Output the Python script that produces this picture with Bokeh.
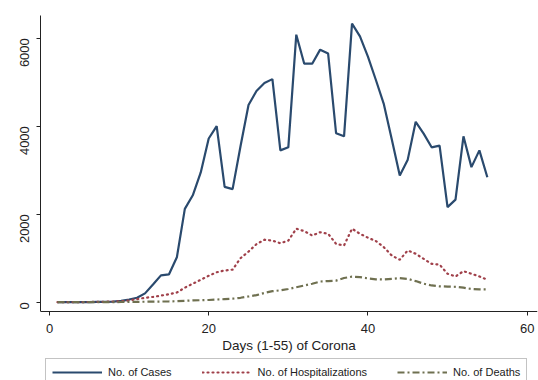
import math
from bokeh.plotting import figure
from bokeh.models import Range1d, FixedTicker, Legend, LegendItem
from bokeh.embed import file_html
from bokeh.resources import INLINE

days = list(range(1, 56))
cases = [0, 0, 0, 0, 2, 5, 8, 12, 30, 60,
         100, 200, 400, 610, 630, 1020, 2120, 2430, 2950, 3720,
         4000, 2620, 2570, 3550, 4480, 4800, 4980, 5070, 3450, 3520,
         6080, 5420, 5420, 5740, 5650, 3840, 3770, 6330, 6040, 5580,
         5050, 4500, 3700, 2880, 3240, 4100, 3830, 3520, 3560, 2160,
         2330, 3770, 3070, 3450, 2840]
hospitalizations = [0, 0, 0, 0, 5, 8, 10, 15, 20, 40,
                    70, 100, 120, 150, 180, 220, 330, 420, 510, 600,
                    680, 720, 740, 1000, 1150, 1320, 1420, 1400, 1340, 1400,
                    1670, 1615, 1515, 1590, 1555, 1325, 1290, 1670, 1555, 1465,
                    1390, 1250, 1060, 965, 1175, 1100, 985, 870, 855, 645,
                    585, 705, 645, 585, 510]
deaths = [0, 0, 0, 0, 0, 0, 0, 2, 4, 6,
          8, 10, 12, 15, 18, 22, 30, 40, 45, 50,
          60, 70, 80, 100, 130, 160, 210, 250, 270, 300,
          340, 380, 420, 470, 480, 490, 550, 580, 570, 540,
          520, 515, 530, 545, 530, 480, 420, 380, 360, 355,
          350, 330, 300, 290, 290]

x_ticks = [0, 20, 40, 60]
y_ticks = [0, 2000, 4000, 6000]
x_label = "Days (1-55) of Corona"
labels = ["No. of Cases", "No. of Hospitalizations", "No. of Deaths"]

FONT = "Liberation Sans"
Y_LO, Y_HI = -211, 6516

p = figure(frame_width=497, frame_height=365, output_backend="svg", toolbar_location=None,
           x_range=Range1d(-1.13, 61.3), y_range=Range1d(-1780, Y_HI),
           min_border_left=40, min_border_right=1, min_border_top=15,
           min_border_bottom=0)
p.outline_line_color = None
p.grid.visible = False
p.background_fill_color = "white"
p.border_fill_color = "white"

r1 = p.line(days, cases, line_color="#2a4a6e", line_width=2.2)
r2 = p.line(days, hospitalizations, line_color="#a0404a", line_width=2.2,
            line_dash="1 4", line_cap="round")
r3 = p.line(days, deaths, line_color="#6f7050", line_width=2.2,
            line_dash="7 3 2 3")

for ax in (p.xaxis[0], p.yaxis[0]):
    ax.axis_line_color = "#222222"
    ax.axis_line_width = 1
    ax.major_tick_line_color = "#222222"
    ax.major_tick_out = 4
    ax.major_tick_in = 0
    ax.minor_tick_line_color = None
    ax.major_label_text_font = FONT
    ax.major_label_text_font_size = "13px"
    ax.major_label_text_color = "#222222"

p.xaxis[0].ticker = FixedTicker(ticks=x_ticks)
p.xaxis[0].fixed_location = Y_LO
p.yaxis[0].ticker = FixedTicker(ticks=y_ticks)
p.yaxis[0].bounds = (Y_LO, Y_HI)
p.xaxis[0].major_label_standoff = 9
p.yaxis[0].major_label_standoff = 12
p.yaxis[0].major_label_orientation = math.pi / 2
p.xaxis[0].axis_label = x_label
p.xaxis[0].axis_label_text_font = FONT
p.xaxis[0].axis_label_text_font_size = "13.5px"
p.xaxis[0].axis_label_text_font_style = "normal"
p.xaxis[0].axis_label_text_color = "#222222"
p.xaxis[0].axis_label_standoff = 1

legend = Legend(items=[LegendItem(label=labels[0], renderers=[r1]),
                       LegendItem(label=labels[1], renderers=[r2]),
                       LegendItem(label=labels[2], renderers=[r3])],
                orientation="horizontal", location=(5, -6))
legend.label_text_font = FONT
legend.label_text_font_size = "11px"
legend.label_text_color = "#222222"
legend.glyph_width = 50
legend.glyph_height = 14
legend.label_height = 14
legend.label_standoff = 6
legend.spacing = 30
legend.padding = 6
legend.margin = 0
legend.border_line_color = "#888888"
legend.border_line_width = 1
legend.background_fill_color = "white"
p.add_layout(legend, "center")

open("out.html", "w").write(file_html(p, INLINE))
